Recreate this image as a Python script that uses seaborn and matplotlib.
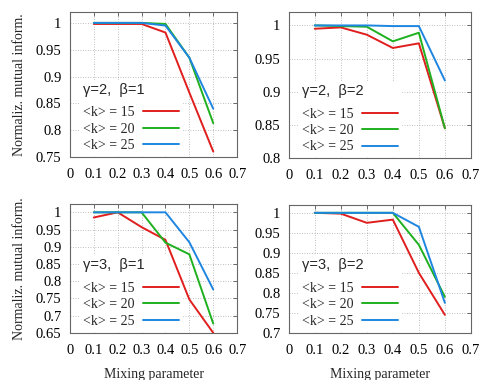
import matplotlib
matplotlib.use("Agg")
import matplotlib.pyplot as plt
import seaborn as sns
import pandas as pd

mixing = [0.1, 0.2, 0.3, 0.4, 0.5, 0.6]
k_labels = ["<k> = 15", "<k> = 20", "<k> = 25"]
titles = ["γ=2,  β=1", "γ=2,  β=2", "γ=3,  β=1", "γ=3,  β=2"]

g2b1_k15 = [0.998, 0.998, 0.998, 0.982, 0.870, 0.760]
g2b1_k20 = [1.000, 1.000, 1.000, 0.998, 0.935, 0.813]
g2b1_k25 = [1.000, 1.000, 1.000, 0.995, 0.935, 0.840]

g2b2_k15 = [0.995, 0.997, 0.986, 0.966, 0.973, 0.845]
g2b2_k20 = [1.000, 0.999, 0.998, 0.976, 0.989, 0.845]
g2b2_k25 = [1.000, 1.000, 1.000, 0.999, 0.999, 0.917]

g3b1_k15 = [0.985, 1.000, 0.957, 0.920, 0.747, 0.650]
g3b1_k20 = [1.000, 1.000, 1.000, 0.912, 0.878, 0.677]
g3b1_k25 = [1.000, 1.000, 1.000, 1.000, 0.913, 0.776]

g3b2_k15 = [1.000, 0.998, 0.975, 0.983, 0.850, 0.745]
g3b2_k20 = [1.000, 1.000, 1.000, 1.000, 0.920, 0.790]
g3b2_k25 = [1.000, 1.000, 1.000, 1.000, 0.965, 0.775]

panels = [
    (g2b1_k15, g2b1_k20, g2b1_k25),
    (g2b2_k15, g2b2_k20, g2b2_k25),
    (g3b1_k15, g3b1_k20, g3b1_k25),
    (g3b2_k15, g3b2_k20, g3b2_k25),
]
ylims = [(0.75, 1.02), (0.80, 1.02), (0.65, 1.024), (0.70, 1.02)]
yticks = [
    [0.75, 0.8, 0.85, 0.9, 0.95, 1],
    [0.8, 0.85, 0.9, 0.95, 1],
    [0.65, 0.7, 0.75, 0.8, 0.85, 0.9, 0.95, 1],
    [0.7, 0.75, 0.8, 0.85, 0.9, 0.95, 1],
]
xticks = [0, 0.1, 0.2, 0.3, 0.4, 0.5, 0.6, 0.7]

sns.set_style("white")
plt.rcParams["font.family"] = ["Liberation Serif", "DejaVu Serif"]

colors = ["#e01e1e", "#1fb01f", "#1e86e0"]

fig = plt.figure(figsize=(4.82, 3.80), dpi=100)
positions = [
    [0.145, 0.587, 0.347, 0.381],
    [0.599, 0.584, 0.378, 0.384],
    [0.145, 0.124, 0.347, 0.339],
    [0.599, 0.124, 0.378, 0.337],
]

for i, (series, lim, yt, pos) in enumerate(zip(panels, ylims, yticks, positions)):
    ax = fig.add_axes(pos)
    rows = []
    for lab, vals in zip(k_labels, series):
        for x, y in zip(mixing, vals):
            rows.append({"mu": x, "nmi": y, "k": lab})
    df = pd.DataFrame(rows)
    sns.lineplot(data=df, x="mu", y="nmi", hue="k", palette=colors,
                 linewidth=1.4, ax=ax, legend=True, zorder=3)
    ax.set_xlim(0, 0.7)
    ax.set_ylim(*lim)
    ax.set_xticks(xticks)
    ax.set_xticklabels(["0", "0.1", "0.2", "0.3", "0.4", "0.5", "0.6", "0.7"])
    ax.set_yticks(yt)
    ax.set_yticklabels([("%g" % v) for v in yt])
    ax.tick_params(direction="in", length=3, width=0.6, colors="#555555",
                   labelcolor="black", labelsize=10.5, pad=6,
                   top=True, right=True)
    ax.tick_params(axis="x", pad=8)
    ax.grid(True, color="#aaaaaa", linestyle=(0, (1, 2)), linewidth=0.6)
    ax.set_axisbelow(True)
    for s in ax.spines.values():
        s.set_color("#666666")
        s.set_linewidth(0.8)
    if i in (0, 2):
        ax.set_ylabel("Normaliz. mutual inform.", fontsize=10, labelpad=7)
    else:
        ax.set_ylabel("")
    if i in (2, 3):
        ax.set_xlabel("Mixing parameter", fontsize=10, labelpad=8)
    else:
        ax.set_xlabel("")
    handles, labels = ax.get_legend_handles_labels()
    leg = ax.legend(handles, labels, loc="lower left", bbox_to_anchor=(0.02, -0.035),
                    markerfirst=False, frameon=True, framealpha=1,
                    edgecolor="white", fancybox=False, handlelength=2.6,
                    handletextpad=0.6, labelspacing=0.25, borderpad=0.2,
                    prop={"family": "Liberation Serif", "size": 10},
                    title=titles[i], alignment="left")
    leg.get_title().set_fontfamily("Liberation Sans")
    leg.get_title().set_fontsize(10.5)
    leg._legend_box.sep = 7
    leg.set_zorder(1.5)

fig.savefig("out.png", dpi=100)
